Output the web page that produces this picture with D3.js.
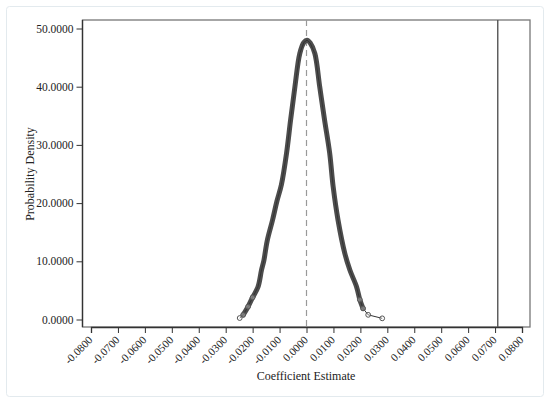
<!DOCTYPE html>
<html><head><meta charset="utf-8">
<script src="https://cdn.jsdelivr.net/npm/d3@7"></script>
<style>body{margin:0;background:#fff}svg{display:block}text{font-family:"Liberation Serif","Times New Roman",serif;fill:#222}</style>
</head><body><svg id="c" width="550" height="403"></svg>
<script>
const xTicks = [-0.08,-0.07,-0.06,-0.05,-0.04,-0.03,-0.02,-0.01,0,0.01,0.02,0.03,0.04,0.05,0.06,0.07,0.08];
const yTicks = [0,10,20,30,40,50];
const densX = [-0.0248,-0.0235,-0.0217,-0.0200,-0.0180,-0.0167,-0.0158,-0.0146,-0.0126,-0.0110,-0.0093,-0.0074,-0.0059,-0.0043,-0.0025,-0.0010,0.0002,0.0014,0.0031,0.0049,0.0067,0.0086,0.0099,0.0117,0.0142,0.0161,0.0186,0.0198,0.0210,0.0229,0.0281];
const densY = [0.25,0.8,2.2,3.8,5.6,8.5,10.2,13.5,17.1,20.3,23.2,28.6,34.3,40.0,45.7,47.6,48.0,47.5,45.7,40.0,34.3,28.6,22.8,17.1,11.4,8.5,5.6,3.4,1.9,0.8,0.2];
const refLine = 0.071;
const nullLine = 0;

const svg = d3.select("#c");
const x = d3.scaleLinear().domain([-0.08,0.08]).range([91,522]);
const y = d3.scaleLinear().domain([0,50]).range([319.5,28.5]);
const L=82.5, R=530, T=20, B=327;

svg.append("rect").attr("x",6.5).attr("y",6.5).attr("width",537).attr("height",390).attr("rx",3)
  .attr("fill","none").attr("stroke","#e3eaee").attr("stroke-width",1);

// frame
svg.append("rect").attr("x",L).attr("y",T).attr("width",R-L).attr("height",B-T)
  .attr("fill","none").attr("stroke","#777").attr("stroke-width",1.3);

// x axis
const xa = svg.append("g").attr("transform",`translate(0,${B})`)
  .call(d3.axisBottom(x).tickValues(xTicks).tickSize(6).tickFormat(d=>d3.format(".4f")(d).replace("−","-")));
xa.select(".domain").attr("stroke","#333").attr("stroke-width",1.3);
xa.selectAll(".tick line").attr("stroke","#333");
xa.selectAll(".tick text").attr("font-size",11).attr("text-anchor","end")
  .attr("x",0).attr("y",0).attr("dy","0.35em")
  .attr("transform","translate(-1,11) rotate(-45)");

// y axis
const ya = svg.append("g").attr("transform",`translate(${L},0)`)
  .call(d3.axisLeft(y).tickValues(yTicks).tickSize(6).tickPadding(3).tickFormat(d3.format(".4f")));
ya.select(".domain").attr("stroke","#333").attr("stroke-width",1.3).attr("d",`M0,${T}V${B}`);
ya.selectAll(".tick line").attr("stroke","#333");
ya.selectAll(".tick text").attr("font-size",11.5);

// reference lines
svg.append("line").attr("x1",x(nullLine)).attr("x2",x(nullLine)).attr("y1",T).attr("y2",B)
  .attr("stroke","#999").attr("stroke-width",1.2).attr("stroke-dasharray","6,4");
svg.append("line").attr("x1",x(refLine)).attr("x2",x(refLine)).attr("y1",T).attr("y2",B)
  .attr("stroke","#555").attr("stroke-width",1.4);

// density
const pts = densX.map((d,i)=>[d,densY[i]]);
const line = d3.line().x(d=>x(d[0])).y(d=>y(d[1])).curve(d3.curveCatmullRom);
svg.append("path").datum(pts.slice(1,-2)).attr("d",line).attr("fill","none")
  .attr("stroke","#4d4d4d").attr("stroke-width",5).attr("stroke-linejoin","round").attr("stroke-linecap","round");
svg.append("path").datum(pts).attr("d",d3.line().x(d=>x(d[0])).y(d=>y(d[1]))).attr("fill","none")
  .attr("stroke","#333").attr("stroke-width",1);
const tails = pts.filter(d=>d[1]<4);
svg.selectAll("circle.m").data(tails).join("circle").attr("class","m")
  .attr("cx",d=>x(d[0])).attr("cy",d=>y(d[1])).attr("r",2.4)
  .attr("fill","#fff").attr("fill-opacity",0.3).attr("stroke","#555").attr("stroke-width",1);

// titles
svg.append("text").attr("x",306).attr("y",380).attr("text-anchor","middle").attr("font-size",12).text("Coefficient Estimate");
svg.append("text").attr("transform","translate(34,174) rotate(-90)").attr("text-anchor","middle").attr("font-size",12).text("Probability Density");
</script></body></html>
